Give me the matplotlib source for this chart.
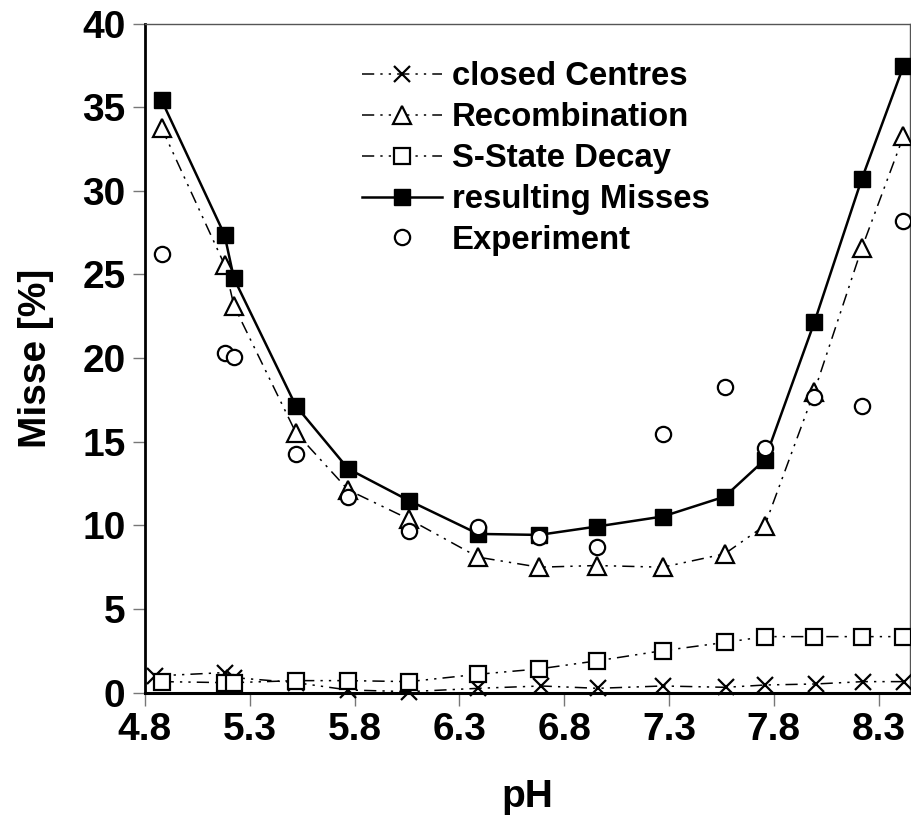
import matplotlib
matplotlib.use("Agg")
import matplotlib.pyplot as plt

plt.rcParams['font.family'] = ['Liberation Sans', 'DejaVu Sans']
plt.rcParams['font.weight'] = 'bold'

# ---- data ----
pH = [4.88, 5.18, 5.225, 5.52, 5.77, 6.06, 6.39, 6.68, 6.955, 7.27, 7.566, 7.757, 7.993, 8.22, 8.418]
pH_closed = [4.85, 5.18, 5.225, 5.52, 5.77, 6.06, 6.39, 6.69, 6.96, 7.27, 7.57, 7.76, 8.0, 8.225, 8.42]
closed_centres = [1.0, 1.2, 0.9, 0.6, 0.16, 0.06, 0.26, 0.4, 0.26, 0.4, 0.32, 0.46, 0.52, 0.66, 0.66]
recombination = [33.76, 25.58, 23.13, 15.55, 12.12, 10.37, 8.10, 7.50, 7.60, 7.50, 8.30, 9.99, 18.0, 26.58, 33.25]
s_state_decay = [0.66, 0.6, 0.6, 0.72, 0.72, 0.66, 1.1, 1.42, 1.9, 2.51, 3.0, 3.35, 3.35, 3.35, 3.35]
resulting_misses = [35.41, 27.37, 24.76, 17.15, 13.38, 11.48, 9.49, 9.43, 9.93, 10.53, 11.72, 13.92, 22.13, 30.72, 37.44]
experiment = [26.24, 20.33, 20.06, 14.28, 11.72, 9.69, 9.93, 9.33, 8.73, 15.45, 18.30, 14.62, 17.70, 17.11, 28.17]

xticks = [4.8, 5.3, 5.8, 6.3, 6.8, 7.3, 7.8, 8.3]
yticks = [0, 5, 10, 15, 20, 25, 30, 35, 40]

fig = plt.figure(figsize=(9.11, 8.25), dpi=100)
ax = fig.add_axes([0.159, 0.1604, 0.840, 0.8111])

dash = (0, (8, 4, 1.5, 4, 1.5, 4))

ax.plot(pH_closed, closed_centres, color='black', lw=1.1, linestyle=dash,
        marker='x', markersize=12, markeredgewidth=1.6, label='closed Centres',
        zorder=3, clip_on=False)
ax.plot(pH, recombination, color='black', lw=1.1, linestyle=dash,
        marker='^', markersize=13, markerfacecolor='white', markeredgewidth=1.6,
        label='Recombination', zorder=4, clip_on=False)
ax.plot(pH, s_state_decay, color='black', lw=1.1, linestyle=dash,
        marker='s', markersize=11, markerfacecolor='white', markeredgewidth=1.6,
        label='S-State Decay', zorder=4, clip_on=False)
ax.plot(pH, resulting_misses, color='black', lw=1.8, linestyle='-',
        marker='s', markersize=12, markerfacecolor='black', markeredgewidth=1.0,
        label='resulting Misses', zorder=5, clip_on=False)
ax.plot(pH, experiment, linestyle='none',
        marker='o', markersize=11, markerfacecolor='white', markeredgecolor='black',
        markeredgewidth=1.6, label='Experiment', zorder=6, clip_on=False)

ax.set_xlim(4.8, 8.45)
ax.set_ylim(0, 40)
ax.set_xticks(xticks)
ax.set_xticklabels([f"{v:.1f}" for v in xticks])
ax.set_yticks(yticks)

for s in ['top', 'right']:
    ax.spines[s].set_color('#555555')
    ax.spines[s].set_linewidth(1.0)
ax.spines['left'].set_color('black')
ax.spines['left'].set_linewidth(2.0)
ax.spines['bottom'].set_color('black')
ax.spines['bottom'].set_linewidth(2.2)
for s in ax.spines.values():
    s.set_zorder(2)

ax.tick_params(axis='both', direction='out', length=9, width=1.0, color='#777777',
               labelsize=28, pad=5)
for lab in ax.get_xticklabels() + ax.get_yticklabels():
    lab.set_fontweight('bold')

ax.set_xlabel('pH', fontsize=28, fontweight='bold', labelpad=22)
ax.set_ylabel('Misse [%]', fontsize=28, fontweight='bold', labelpad=20)

leg = ax.legend(loc='upper left', bbox_to_anchor=(0.267, 0.963), frameon=False,
                fontsize=23.7, handlelength=2.43, handletextpad=0.3, labelspacing=0.3,
                borderaxespad=0)
for t in leg.get_texts():
    t.set_fontweight('bold')

fig.savefig('out.png', dpi=100)
